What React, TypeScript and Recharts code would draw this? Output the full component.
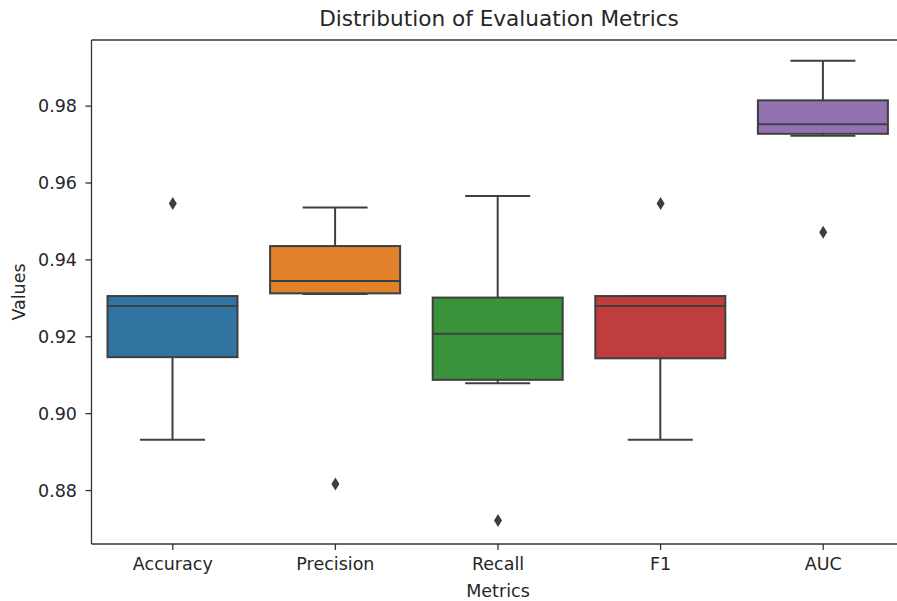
import { Bar, ComposedChart, ReferenceLine, Scatter, XAxis, YAxis } from 'recharts'

const metrics = ['Accuracy', 'Precision', 'Recall', 'F1', 'AUC']
const whiskerLow = [0.8932, 0.9311, 0.9079, 0.8932, 0.9723]
const q1 = [0.9147, 0.9313, 0.9088, 0.9144, 0.9728]
const median = [0.928, 0.9345, 0.9208, 0.928, 0.9753]
const q3 = [0.9306, 0.9436, 0.9302, 0.9306, 0.9815]
const whiskerHigh = [0.9306, 0.9536, 0.9566, 0.9306, 0.9918]
const outliers = [0.9547, 0.8817, 0.8722, 0.9547, 0.9472]
const yTicks = [0.88, 0.9, 0.92, 0.94, 0.96, 0.98]
const yDomain = [0.8661, 0.9972]

const colors = ['#3274a1', '#e1812c', '#3a923a', '#c03d3e', '#9372b2']
const edge = '#3f3f3f'
const font = 'DejaVu Sans'

const data = metrics.map((metric, i) => ({
  metric,
  range: [q1[i], q3[i]],
  q1: q1[i],
  q3: q3[i],
  median: median[i],
  low: whiskerLow[i],
  high: whiskerHigh[i],
  outlier: outliers[i],
  color: colors[i],
}))

// draws box, whiskers, caps and median from the bar's own q1..q3 geometry
const BoxShape = (props: any) => {
  const { x, y, width, height, payload } = props
  const top = Math.min(y, y + height)
  const h = Math.abs(height)
  const k = h / (payload.q3 - payload.q1)
  const yOf = (v: number) => top + (payload.q3 - v) * k
  const cx = x + width / 2
  const capHalf = width / 4
  const yHigh = yOf(payload.high)
  const yLow = yOf(payload.low)
  const yMed = yOf(payload.median)
  return (
    <g>
      <line x1={cx} x2={cx} y1={yHigh} y2={top} stroke={edge} strokeWidth={2} />
      <line x1={cx} x2={cx} y1={top + h} y2={yLow} stroke={edge} strokeWidth={2} />
      <rect x={x} y={top} width={width} height={h} fill={payload.color} stroke={edge} strokeWidth={2} />
      <line x1={cx - capHalf} x2={cx + capHalf} y1={yHigh} y2={yHigh} stroke={edge} strokeWidth={2} />
      <line x1={cx - capHalf} x2={cx + capHalf} y1={yLow} y2={yLow} stroke={edge} strokeWidth={2} />
      <line x1={x} x2={x + width} y1={yMed} y2={yMed} stroke={edge} strokeWidth={2} />
    </g>
  )
}

const Diamond = (props: any) => {
  const { cx, cy } = props
  if (cx == null || cy == null) return null
  const pts = `${cx},${cy - 6.5} ${cx + 4},${cy} ${cx},${cy + 6.5} ${cx - 4},${cy}`
  return <polygon points={pts} fill={edge} />
}

export default function App() {
  return (
    <div style={{ position: 'absolute', left: 0, top: 0, width: 897, height: 601, overflow: 'hidden', background: '#fff' }}>
      <ComposedChart
        width={920}
        height={601}
        data={data}
        margin={{ top: 40, right: 15.5, bottom: 0, left: 31.5 }}
      >
        <XAxis
          dataKey="metric"
          height={57}
          stroke="#333"
          strokeWidth={1.3}
          tickSize={6}
          tickMargin={8}
          tick={{ fill: '#262626', fontSize: 17.5, fontFamily: font }}
        />
        <YAxis
          type="number"
          domain={yDomain}
          allowDataOverflow
          ticks={yTicks}
          tickFormatter={(v: number) => v.toFixed(2)}
          width={60}
          stroke="#333"
          strokeWidth={1.3}
          tickSize={6}
          tickMargin={8.5}
          tick={{ fill: '#262626', fontSize: 17.5, fontFamily: font }}
        />
        <ReferenceLine y={yDomain[1]} stroke="#333" strokeWidth={1.3} ifOverflow="extendDomain" />
        <Bar dataKey="range" barSize={130} shape={BoxShape} isAnimationActive={false} />
        <Scatter dataKey="outlier" shape={Diamond} isAnimationActive={false} />
        <text x={499} y={26} textAnchor="middle" fontSize={21.6} fontFamily={font} fill="#262626">
          Distribution of Evaluation Metrics
        </text>
        <text x={498} y={597} textAnchor="middle" fontSize={17.5} fontFamily={font} fill="#262626">
          Metrics
        </text>
        <text
          x={19}
          y={292}
          textAnchor="middle"
          dominantBaseline="central"
          transform="rotate(-90 19 292)"
          fontSize={17.5}
          fontFamily={font}
          fill="#262626"
        >
          Values
        </text>
      </ComposedChart>
    </div>
  )
}
